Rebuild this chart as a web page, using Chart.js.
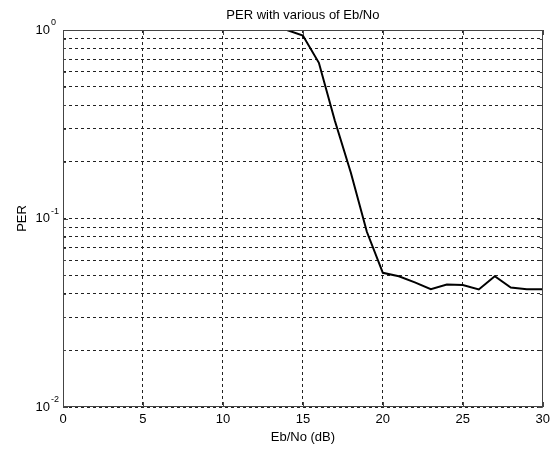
<!DOCTYPE html>
<html>
<head>
<meta charset="utf-8">
<script src="https://cdn.jsdelivr.net/npm/chart.js@4.4.1/dist/chart.umd.min.js"></script>
<style>
  html, body { margin: 0; padding: 0; background: #fff; }
  #wrap { width: 555px; height: 450px; }
</style>
</head>
<body>
<div id="wrap"><canvas id="perChart"></canvas></div>
<script>
// PER vs Eb/No
var ebno = [14, 15, 16, 17, 18, 19, 20, 21, 22, 23, 24, 25, 26, 27, 28, 29, 30];
var per = [1.0, 0.935, 0.67, 0.33, 0.175, 0.085, 0.0515, 0.0494, 0.0458, 0.0422, 0.0447, 0.0444, 0.042, 0.0494, 0.043, 0.0422, 0.0422];

var xTicks = [0, 5, 10, 15, 20, 25, 30];
var yGrid = [0.01, 0.02, 0.03, 0.04, 0.05, 0.06, 0.07, 0.08, 0.09,
             0.1, 0.2, 0.3, 0.4, 0.5, 0.6, 0.7, 0.8, 0.9, 1];
var yMajor = [1, 0.1, 0.01];
var yExp = ['0', '-1', '-2'];

var FONT = 'Liberation Sans, Arial, sans-serif';

// title, y labels with exponents, box and inward ticks
var matlabAxes = {
  id: 'matlabAxes',
  afterDraw: function (chart) {
    var ctx = chart.ctx;
    var a = chart.chartArea;
    var xs = chart.scales.x, ys = chart.scales.y;
    ctx.save();
    ctx.fillStyle = '#000';
    ctx.font = '13px ' + FONT;
    ctx.textAlign = 'center';
    ctx.textBaseline = 'middle';
    ctx.fillText('PER with various of Eb/No', (a.left + a.right) / 2, 15);

    for (var i = 0; i < yMajor.length; i++) {
      var py = ys.getPixelForValue(yMajor[i]);
      ctx.font = '13px ' + FONT;
      ctx.textAlign = 'right';
      ctx.fillText('10', 50, py);
      ctx.font = '9px ' + FONT;
      ctx.textAlign = 'left';
      ctx.fillText(yExp[i], 51, py - 7);
    }

    ctx.strokeStyle = '#444';
    ctx.lineWidth = 1;
    ctx.setLineDash([]);
    ctx.beginPath();
    for (var j = 0; j < xTicks.length; j++) {
      var px = Math.round(xs.getPixelForValue(xTicks[j])) + 0.5;
      ctx.moveTo(px, a.bottom); ctx.lineTo(px, a.bottom - 5);
      ctx.moveTo(px, a.top); ctx.lineTo(px, a.top + 5);
    }
    for (var k = 0; k < yGrid.length; k++) {
      var gy = Math.round(ys.getPixelForValue(yGrid[k])) + 0.5;
      var len = yMajor.indexOf(yGrid[k]) >= 0 ? 5 : 3;
      ctx.moveTo(a.left, gy); ctx.lineTo(a.left + len, gy);
      ctx.moveTo(a.right, gy); ctx.lineTo(a.right - len, gy);
    }
    ctx.stroke();
    ctx.strokeRect(Math.round(a.left) + 0.5, Math.round(a.top) + 0.5,
                   Math.round(a.right - a.left) - 1, Math.round(a.bottom - a.top) - 1);
    ctx.restore();
  }
};

var ctx = document.getElementById('perChart');
var perChart = new Chart(ctx, {
  type: 'line',
  data: {
    datasets: [{
      label: 'PER',
      data: ebno.map(function (x, i) { return { x: x, y: per[i] }; }),
      borderColor: '#000',
      borderWidth: 2,
      pointRadius: 0,
      tension: 0,
      fill: false
    }]
  },
  options: {
    responsive: true,
    maintainAspectRatio: false,
    animation: false,
    layout: { padding: { top: 30, right: 12, left: 0, bottom: 0 } },
    plugins: {
      legend: { display: false },
      tooltip: { enabled: false }
    },
    scales: {
      x: {
        type: 'linear',
        min: 0,
        max: 30,
        afterBuildTicks: function (scale) {
          scale.ticks = xTicks.map(function (v) { return { value: v }; });
        },
        afterFit: function (scale) { scale.height = 43; },
        ticks: { color: '#000', font: { family: FONT, size: 13 }, padding: 5, maxRotation: 0 },
        grid: { color: '#222', lineWidth: 1, drawTicks: false },
        border: { display: false, dash: [3, 3] },
        title: {
          display: true,
          text: 'Eb/No (dB)',
          color: '#000',
          font: { family: FONT, size: 13 },
          padding: { top: 0, bottom: 5 }
        }
      },
      y: {
        type: 'logarithmic',
        min: 0.01,
        max: 1,
        afterBuildTicks: function (scale) {
          scale.ticks = yGrid.map(function (v) { return { value: v }; });
        },
        afterFit: function (scale) { scale.width = 63; },
        ticks: { display: false },
        grid: { color: '#222', lineWidth: 1, drawTicks: false },
        border: { display: false, dash: [3, 3] },
        title: {
          display: true,
          text: 'PER',
          color: '#000',
          font: { family: FONT, size: 13 },
          padding: { top: 15, bottom: 0 }
        }
      }
    }
  },
  plugins: [matlabAxes]
});
</script>
</body>
</html>
